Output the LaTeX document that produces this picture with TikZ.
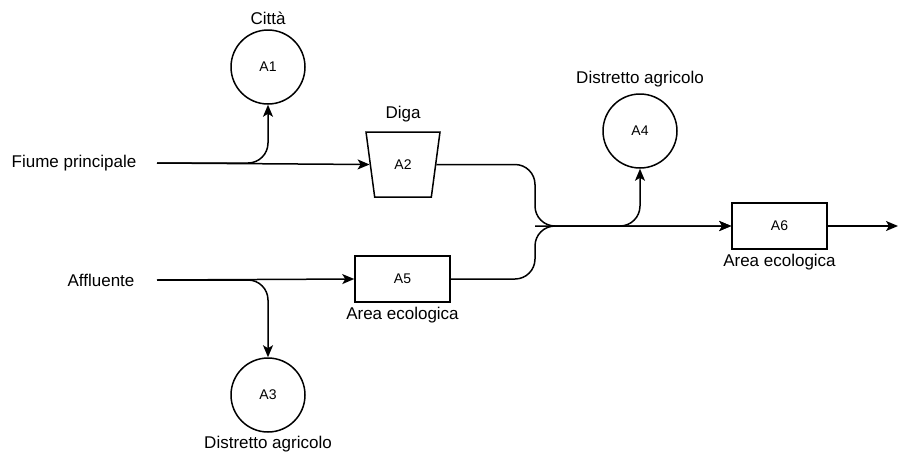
\documentclass[tikz,border=0pt]{standalone}
\usepackage{fontspec}
\setmainfont{Liberation Sans}
\usetikzlibrary{arrows.meta,shapes.geometric,positioning,calc}

\begin{document}
\begin{tikzpicture}[x=1pt, y=-1pt, line width=1.5pt,
        flow/.style={-{Stealth[length=12pt,width=10pt,inset=3pt]}, rounded corners=20pt},
        area/.style={draw, minimum width=95pt, minimum height=46pt, inner sep=0pt, font=\fontsize{14}{16}\selectfont},
        user/.style={draw, circle, minimum size=74pt, inner sep=0pt, font=\fontsize{14}{16}\selectfont},
        dam/.style={draw, trapezium, shape border rotate=180, trapezium stretches=true, trapezium angle=75,
                    minimum width=74pt, minimum height=65pt, inner sep=0pt, font=\fontsize{14}{16}\selectfont},
        tag/.style={font=\fontsize{17}{19}\selectfont, inner sep=0pt}]
        \useasboundingbox (0,0) rectangle (898,451);

        % sorgenti
        \node[tag] (fiume) at (74,163) {Fiume principale};
        \node[tag] (affl) at (101,280) {Affluente};
        \coordinate (src1) at (157,163);
        \coordinate (src2) at (157,280);

        % utenti e aree
        \node[user] (A1) at (268,67) {A1};
        \node[tag, above=4pt of A1] (A1lab) {Città};
        \node[dam] (A2) at (403,164.5) {A2};
        \node[tag, above=8pt of A2] (A2lab) {Diga};
        \node[user] (A3) at (268,395) {A3};
        \node[tag, below=3pt of A3] (A3lab) {Distretto agricolo};
        \node[user] (A4) at (640,131) {A4};
        \node[tag, above=5pt of A4] (A4lab) {Distretto agricolo};
        \node[area] (A5) at (402.5,279) {A5};
        \node[tag, below=4pt of A5] (A5lab) {Area ecologica};
        \node[area] (A6) at (779.5,226) {A6};
        \node[tag, below=4pt of A6] (A6lab) {Area ecologica};

        \coordinate (bend) at (535,226);
        \coordinate (out) at (898,226);

        % collegamenti
        \draw[flow] (src1) -- (A2.180);                   % fiume -> diga
        \draw[flow] (src1) -| (A1.south);                 % prelievo citta
        \draw[flow] (src2) -- (A5.west);                  % affluente -> A5
        \draw[flow] (src2) -| (A3.north);                 % prelievo distretto
        \draw[flow] (A2.0) -| (bend) -- (A6.west);        % rilascio diga
        \draw[flow] (A5.east) -| (bend) -- (A6.west);     % uscita A5
        \draw[flow] (bend) -| (A4.south);                 % prelievo A4
        \draw[flow] (A6.east) -- (out);                   % uscita finale
\end{tikzpicture}
\end{document}
